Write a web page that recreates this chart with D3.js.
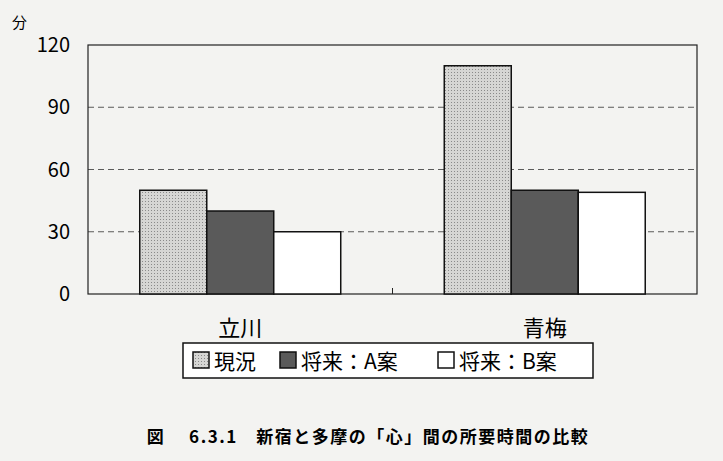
<!DOCTYPE html>
<html><head><meta charset="utf-8">
<script src="https://cdn.jsdelivr.net/npm/d3@7"></script>
<style>body{margin:0;background:#f3f3f1;}</style>
</head><body>
<svg id="chart" width="723" height="461"></svg>
<script>
const categories = ["立川", "青梅"];
const seriesNames = ["現況", "将来：A案", "将来：B案"];
const current = [50, 110];
const planA = [40, 50];
const planB = [30, 49];
const yTicks = [0, 30, 60, 90, 120];
const colors = ["#c9c9c7", "#5a5a5a", "#ffffff"];

const svg = d3.select("#chart");
const margin = {top: 45, left: 88, right: 26, bottom: 167};
const width = 723 - margin.left - margin.right,
    height = 461 - margin.top - margin.bottom;
const font = "'Noto Sans CJK JP', 'Liberation Serif', serif";

const defs = svg.append("defs");
const pat = defs.append("pattern").attr("id", "dots").attr("width", 3).attr("height", 3)
    .attr("patternUnits", "userSpaceOnUse");
pat.append("rect").attr("width", 3).attr("height", 3).attr("fill", "#d6d6d4");
pat.append("rect").attr("width", 1).attr("height", 1).attr("fill", "#8a8a8a");
const fills = ["url(#dots)", colors[1], colors[2]];

const g = svg.append("g").attr("transform", "translate(" + margin.left + "," + margin.top + ")");

const x0 = d3.scaleBand().domain(categories).range([0, width]).paddingInner(0.34).paddingOuter(0.17);
const x1 = d3.scaleBand().domain(seriesNames).range([0, x0.bandwidth()]);
const y = d3.scaleLinear().domain([0, 120]).range([height, 0]);

// gridlines
g.selectAll(".grid").data(yTicks.filter(t => t > 0 && t < 120)).enter().append("line")
    .attr("x1", 0).attr("x2", width).attr("y1", d => y(d)).attr("y2", d => y(d))
    .attr("stroke", "#333").attr("stroke-dasharray", "6,4").attr("stroke-width", 0.8);

g.append("rect").attr("width", width).attr("height", height)
    .attr("fill", "none").attr("stroke", "#222").attr("stroke-width", 1.2);

const series = [current, planA, planB];
categories.forEach((c, ci) => {
    series.forEach((s, si) => {
        g.append("rect")
            .attr("x", x0(c) + x1(seriesNames[si]))
            .attr("y", y(s[ci]))
            .attr("width", x1.bandwidth())
            .attr("height", height - y(s[ci]))
            .attr("fill", fills[si]).attr("stroke", "#111").attr("stroke-width", 1.5);
    });
});

// y axis labels
g.selectAll(".ylab").data(yTicks).enter().append("text")
    .attr("x", -18).attr("y", d => y(d)).attr("dy", "0.35em")
    .attr("text-anchor", "end").attr("font-family", font).attr("font-size", 20)
    .text(d => d);
svg.append("text").attr("x", 12).attr("y", 28).attr("font-family", font).attr("font-size", 15).text("分");

// center tick
g.append("line").attr("x1", width / 2).attr("x2", width / 2).attr("y1", height).attr("y2", height - 6).attr("stroke", "#222");

// category labels
g.selectAll(".cat").data(categories).enter().append("text")
    .attr("x", d => x0(d) + x0.bandwidth() / 2).attr("y", height + 42)
    .attr("text-anchor", "middle").attr("font-family", font).attr("font-size", 22)
    .text(d => d);

// legend
const lg = svg.append("g").attr("transform", "translate(183,343)");
lg.append("rect").attr("width", 410).attr("height", 35).attr("fill", "#fff")
    .attr("stroke", "#111").attr("stroke-width", 1.5);
const lx = [10, 97, 255];
seriesNames.forEach((n, i) => {
    lg.append("rect").attr("x", lx[i]).attr("y", 9).attr("width", 16).attr("height", 16)
        .attr("fill", fills[i]).attr("stroke", "#111").attr("stroke-width", 1.5);
    lg.append("text").attr("x", lx[i] + 21).attr("y", 26).attr("font-family", font)
        .attr("font-size", 21).text(n);
});

svg.append("text").attr("x", 368).attr("y", 443).attr("text-anchor", "middle")
    .attr("font-family", font).attr("font-weight", "bold").attr("font-size", 17)
    .attr("letter-spacing", 1.5)
    .attr("xml:space", "preserve")
    .text("図　 6.3.1　新宿と多摩の「心」間の所要時間の比較");
</script>
</body></html>
